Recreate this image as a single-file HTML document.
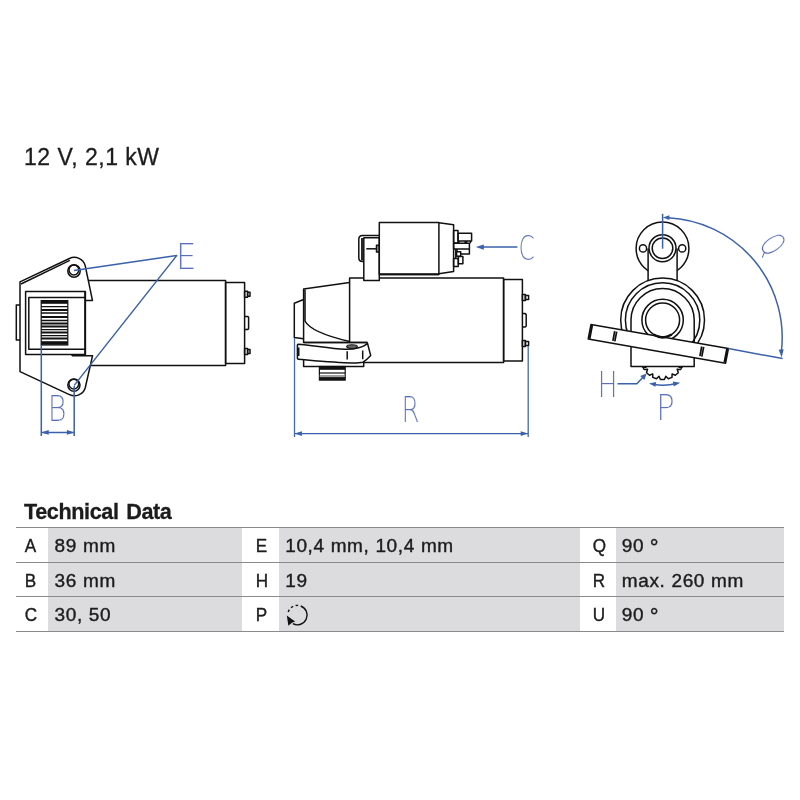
<!DOCTYPE html>
<html lang="en">
<head>
<meta charset="utf-8">
<title>Technical Data</title>
<style>
html,body{margin:0;padding:0;background:#fff;}
.spec,.hd,.tbl{will-change:transform;}
body{width:800px;height:800px;position:relative;overflow:hidden;font-family:"Liberation Sans",sans-serif;color:#1c1c1c;}
.spec{position:absolute;left:24px;top:142.8px;font-size:23px;line-height:28px;letter-spacing:0.5px;-webkit-text-stroke:0.3px #1c1c1c;white-space:nowrap;}
.hd{position:absolute;left:24.4px;top:498.6px;font-size:21.6px;line-height:26px;font-weight:bold;letter-spacing:-0.38px;word-spacing:2px;white-space:nowrap;-webkit-text-stroke:0.3px #1c1c1c;}
.tbl{position:absolute;left:16px;top:527px;width:768px;height:105px;}
.row{position:absolute;left:0;width:768px;height:34.5px;border-top:1px solid #8a8a8a;box-sizing:border-box;}
.tbl .end{position:absolute;left:0;top:103.5px;width:768px;height:1px;background:#8a8a8a;}
.c{position:absolute;top:0;height:100%;font-size:19px;line-height:36px;white-space:nowrap;letter-spacing:0.64px;-webkit-text-stroke:0.4px #1c1c1c;}
.k{background:#fff;}
.v{background:#dcdcde;}
.k span{position:absolute;left:8px;transform:scaleX(0.9);transform-origin:50% 50%;letter-spacing:0;}
.v span{position:absolute;left:6.6px;}
.deg{font-style:normal;font-size:22px;position:relative;top:3.2px;left:-0.5px;line-height:0;}
svg{position:absolute;left:0;top:0;}
</style>
</head>
<body>
<div class="spec">12 V, 2,1 kW</div>
<div class="hd">Technical Data</div>
<div class="tbl">
  <div class="row" style="top:0">
    <div class="c k" style="left:0;width:32px"><span>A</span></div>
    <div class="c v" style="left:32px;width:194px"><span>89 mm</span></div>
    <div class="c k" style="left:226px;width:37px"><span style="left:13px">E</span></div>
    <div class="c v" style="left:262.6px;width:301.4px"><span>10,4 mm, 10,4 mm</span></div>
    <div class="c k" style="left:564px;width:36px"><span style="left:12px">Q</span></div>
    <div class="c v" style="left:600px;width:168px"><span style="left:5.8px">90 <i class="deg">°</i></span></div>
  </div>
  <div class="row" style="top:34.5px">
    <div class="c k" style="left:0;width:32px"><span>B</span></div>
    <div class="c v" style="left:32px;width:194px"><span>36 mm</span></div>
    <div class="c k" style="left:226px;width:37px"><span style="left:13px">H</span></div>
    <div class="c v" style="left:262.6px;width:301.4px"><span>19</span></div>
    <div class="c k" style="left:564px;width:36px"><span style="left:12px">R</span></div>
    <div class="c v" style="left:600px;width:168px"><span style="left:5.8px">max. 260 mm</span></div>
  </div>
  <div class="row" style="top:69px">
    <div class="c k" style="left:0;width:32px"><span>C</span></div>
    <div class="c v" style="left:32px;width:194px"><span>30, 50</span></div>
    <div class="c k" style="left:226px;width:37px"><span style="left:13px">P</span></div>
    <div class="c v" style="left:262.6px;width:301.4px"></div>
    <div class="c k" style="left:564px;width:36px"><span style="left:12px">U</span></div>
    <div class="c v" style="left:600px;width:168px"><span style="left:5.8px">90 <i class="deg">°</i></span></div>
  </div>
  <div class="end"></div>
</div>
<svg width="800" height="800" viewBox="0 0 800 800">
<style>
.ln{stroke:#111;stroke-width:1.5;fill:none;stroke-linejoin:round;stroke-linecap:butt}
.lf{stroke:#111;stroke-width:1.5;fill:#fff;stroke-linejoin:round}
.b{stroke:#3b61aa;stroke-width:1.5;fill:none;stroke-linejoin:round}
.bf{fill:#3b61aa;stroke:none}
.lb{font-family:"DejaVu Sans Light","DejaVu Sans","Liberation Sans",sans-serif;font-weight:200;fill:#5c70ba;font-size:34px;stroke:#fff;stroke-width:0.2px;vector-effect:non-scaling-stroke}
</style>
<!-- LEFT VIEW -->
<g id="left">
  <!-- motor body -->
  <path class="ln" d="M88.7 280.6H225.6V365.4H90.3"/>
  <rect class="ln" x="225.6" y="282.4" width="19" height="81"/>
  <rect class="ln" x="244.6" y="291.2" width="3" height="6"/>
  <rect class="ln" x="247.6" y="292.2" width="2.4" height="4"/>
  <rect class="ln" x="244.6" y="348.6" width="3" height="6"/>
  <rect class="ln" x="247.6" y="349.6" width="2.4" height="4"/>
  <path class="ln" d="M244.6 316.4H247.6L248.6 317.4V328.6L247.6 329.6H244.6"/>
  <!-- housing outline -->
  <path class="ln" d="M85.4 300.6H92.5L85.2 265.6A11.3 11.3 0 0 0 69.4 258.5L20 281.9V371.6L69.4 394.6A11.3 11.3 0 0 0 85.2 388L92.5 355.8H72"/>
  <path class="ln" d="M21 284L69.8 260.4"/>
  <path class="ln" d="M72 354.6V355.8"/>
  <!-- left tab -->
  <path class="ln" d="M20 305H16.3V340H20"/>
  <!-- window -->
  <rect class="ln" x="25.6" y="291.6" width="59.8" height="62.8"/>
  <path class="ln" d="M85.4 297.4H28.8V349.2H85.4" />
  <path class="ln" style="stroke-width:1.6" d="M85 292V354"/>
  <!-- gear -->
  <rect x="41.2" y="300.6" width="26.6" height="44.4" fill="#fff" stroke="#111" stroke-width="1.2"/>
  <g stroke="#111" fill="none">
    <path stroke-width="3.2" d="M41.2 302.2H67.8"/>
    <path stroke-width="1.3" d="M41.2 306.6H67.8M41.2 313H67.8M41.2 320.5H67.8M41.2 329.6H67.8M41.2 335.6H67.8"/>
    <path stroke-width="2" d="M41.2 310H67.8M41.2 317H67.8M41.2 323.6H67.8M41.2 326.6H67.8M41.2 332.6H67.8M41.2 338.4H67.8"/>
    <path stroke-width="3.6" d="M41.2 343H67.8"/>
  </g>
  <!-- holes -->
  <circle class="ln" cx="74" cy="271" r="6.2"/>
  <circle class="ln" cx="73.9" cy="270" r="4.9"/>
  <circle class="ln" cx="73.9" cy="385.1" r="6.1"/>
  <circle class="ln" cx="73.8" cy="384.1" r="4.9"/>
  <!-- blue -->
  <path class="b" d="M74 270.6L176.7 255.6L74.2 385.4"/>
  <path class="b" d="M41.3 345V436M74.2 386V436M41.3 432.4H74.2"/>
  <path class="bf" d="M41.2 432.4l7.5 -2.3v4.6zM74.4 432.4l-7.5 -2.3v4.6z"/>
  <text class="lb" transform="translate(176.12 268.95) scale(0.950 1.061)">E</text>
  <text class="lb" transform="translate(47.82 420.75) scale(0.843 1.025)">B</text>
</g>
<!-- MIDDLE VIEW -->
<g id="mid">
  <!-- main body -->
  <path class="ln" d="M349.6 342.4V278H503.6V362.4H363.7"/>
  <rect class="ln" x="503.6" y="279.4" width="18.8" height="81.6"/>
  <rect class="ln" x="522.4" y="294.4" width="3" height="6"/>
  <rect class="ln" x="525.4" y="295.4" width="3.2" height="4"/>
  <rect class="ln" x="522.4" y="340.4" width="3" height="6"/>
  <rect class="ln" x="525.4" y="341.4" width="3.2" height="4"/>
  <path class="ln" d="M522.4 313.6H525.2L526.2 314.6V326L525.2 327H522.4"/>
  <!-- solenoid -->
  <path class="ln" d="M379.3 235.4H362.6Q358.8 235.4 358.8 239.2V257.8Q358.8 261.6 362.6 261.6H363.8"/>
  <path class="ln" style="stroke-width:1.8" d="M362 238V260.6"/>
  <rect class="lf" x="363.8" y="237.8" width="15.5" height="42.8"/>
  <path class="ln" d="M366.3 248.8H376.5"/>
  <rect class="ln" x="376.5" y="245.2" width="2.8" height="6.8" style="fill:#aaa"/>
  <rect class="lf" x="379.3" y="222.4" width="59.6" height="52"/>
  <path class="ln" style="stroke-width:2" d="M379.3 274.2H438.9"/>
  <path class="ln" d="M438.9 222.8L453.6 224.8V271.6L438.9 273.8"/>
  <rect class="ln" x="453.6" y="230.4" width="4.4" height="12.6"/>
  <rect class="ln" x="458" y="233.2" width="13.6" height="7.7"/>
  <path class="ln" d="M459 240.9V243.2M465.2 240.9V243.2M466.6 240.9V243.2M470.4 240.9V243.2"/>
  <rect class="ln" x="453.6" y="243.3" width="15.8" height="5.8"/>
  <path class="ln" d="M457 249.1V254H469.4V249.1"/>
  <path class="ln" d="M455.8 249.1V258.5"/>
  <rect class="lf" x="456.6" y="251.8" width="4.1" height="4.5"/>
  <rect class="ln" x="453.6" y="258.5" width="4.6" height="8.1"/>
  <rect class="lf" x="458.4" y="256.6" width="4.5" height="7.1"/>
  <!-- nose -->
  <path class="ln" d="M349.6 282.6L303.6 289V342.4H367.5"/>
  <path class="ln" d="M305 289.5V321C309 329 326 336 349.6 341.5"/>
  <path class="ln" d="M303.6 299.5L294.3 303.2V337.6L303.6 338.8"/>
  <!-- base + pinion -->
  <rect class="ln" x="303.6" y="359" width="60.1" height="7.5"/>
  <rect x="319.4" y="366.5" width="25.8" height="13.6" fill="#fff" stroke="#111" stroke-width="1.2"/>
  <g stroke="#111" fill="none">
    <path stroke-width="3.2" d="M319.4 368.2H345.2"/>
    <path stroke-width="1.2" d="M319.4 373H345.2"/>
    <path stroke-width="1.4" stroke="#777" d="M319.4 376H345.2"/>
    <path stroke-width="3" d="M319.4 378.6H345.2"/>
  </g>
  <!-- bracket -->
  <path class="lf" d="M298 344.2C312 345.2 330 348.6 345 349.3C355 349.6 364 347 367.5 343.3L370.7 355.6C368 358.6 366 360.6 363 362.2C352 364.6 322 361.4 298.4 359.3Q297.4 359.2 297.4 358.2V345.2Q297.4 344.2 298 344.2Z"/>
  <path class="ln" d="M303.6 342.4H367.5"/>
  <path class="ln" style="stroke-width:1.8" d="M298.6 347.5V356"/>
  <path class="ln" d="M347.2 351.3V359.6M362.7 350.5V359.2"/>
  <ellipse cx="352" cy="346.6" rx="5.4" ry="1.9" fill="#666" stroke="#111" stroke-width="1.1"/>
  <!-- blue -->
  <path class="b" style="stroke-width:1.3;stroke:#4169b4" d="M294.5 338V437M528.2 346V437"/><path class="b" style="stroke-width:1.35" d="M294.5 433.6H528.2"/>
  <path class="bf" d="M294.5 433.6l7.5 -2.3v4.6zM528.2 433.6l-7.5 -2.3v4.6z"/>
  <path class="b" d="M517.4 247.1H480"/>
  <path class="bf" d="M475.8 247.1l8 -2.6v5.2z"/>
  <text class="lb" transform="translate(518.61 259.87) scale(0.687 1.007)">C</text>
  <text class="lb" transform="translate(401.54 421.75) scale(0.766 1.033)">R</text>
</g>
<!-- RIGHT VIEW -->
<g id="right">
  <!-- solenoid end -->
  <circle class="ln" cx="662.5" cy="248.5" r="26.4"/>
  <circle class="ln" cx="643" cy="248.4" r="3.6"/>
  <circle class="ln" cx="682.2" cy="248.4" r="3.6"/>
  <path class="lf" d="M648.1 248.2V282H677.1V248.2Z" style="stroke:none"/>
  <path class="ln" d="M648.1 248.4V281M677.1 248.4V281"/>
  <circle class="lf" cx="662.5" cy="248.2" r="13.5"/>
  <circle class="ln" cx="662.5" cy="248.2" r="10.3"/>
  <!-- main body arcs -->
  <clipPath id="pclip"><path d="M560 200H760V354.2L560 318.9Z"/></clipPath>
  <circle class="lf" clip-path="url(#pclip)" cx="662.6" cy="320.0" r="41.9"/>
  <circle class="ln" clip-path="url(#pclip)" cx="662.6" cy="320.0" r="37.2"/>
  <path class="ln" d="M631.0 366.4V320.0A31.6 31.6 0 0 1 694.2 320.0V366.4Z"/>
  <circle class="ln" cx="662.6" cy="320.0" r="20.7"/>
  <!-- gear -->
  <clipPath id="gclip"><rect x="630" y="366.4" width="70" height="30"/></clipPath>
  <path class="ln" clip-path="url(#gclip)" d="M644.6 363.3L642.3 366.0L644.1 369.5L647.6 369.3L646.5 372.7L649.5 375.3L652.7 373.9L652.8 377.4L656.5 378.8L659.0 376.3L660.4 379.5L664.4 379.5L665.8 376.3L668.3 378.8L672.0 377.4L672.1 373.9L675.3 375.3L678.3 372.7L677.2 369.3L680.7 369.5L682.5 366.0L680.2 363.3"/>
  <path class="ln" style="stroke-width:2" d="M642.6 367H646.6M678.4 367H682.4"/>
  <!-- plate -->
  <path class="lf" d="M591.0 324.4L728.4 348.6L725.6 363.2L588.2 339.0Z"/>
  <path class="ln" style="stroke-width:2.2" d="M592.1 325.1L589.5 338.7M727.1 348.9L724.5 362.5"/>
  <path class="ln" style="stroke-width:1.7" d="M614.7 331.2L612.9 340.9M616.7 331.6L614.8 341.3M703.7 346.9L701.8 356.6M701.7 346.5L699.9 356.2"/>
  <circle class="ln" cx="662.6" cy="320.0" r="17"/>
  <path class="ln" style="stroke-width:2.4" d="M653.5 334.6A17.2 17.2 0 0 0 671.7 334.6"/>
  <!-- blue -->
  <path class="b" d="M662.6 213.8V248.7"/>
  <path class="b" d="M668 217.7A120 120 0 0 1 781.2 353"/>
  <path class="b" d="M728.4 348.6L782.6 358.6"/>
  <path class="bf" d="M662.8 217.6l6.6 -2.4v4.8z"/>
  <path class="bf" d="M781.6 357.4l-2.9 -7.6l5 -0.6z"/>
  <path class="b" d="M617.5 383.7H636.8L644 376.2"/>
  <path class="bf" d="M646.6 373.5l-2.2 6.6l-4.2 -4z"/>
  <path class="b" d="M653 384.2Q664.5 386.6 676.5 383.6"/>
  <path class="bf" d="M649 383.6l7.2 -1.6l-0.8 4.8zM680.2 382.8l-7.4 -1.2l1 4.8z"/>
  <text class="lb" transform="translate(597.76 396.55) scale(0.773 1.045)">H</text>
  <text class="lb" transform="translate(656.22 420.25) scale(0.898 1.029)">P</text>
  <text class="lb" style="stroke-width:0.15px" transform="translate(773.2 244.2) rotate(55) scale(0.660 0.995) translate(-13.38 12.38)">Q</text>
</g>
<!-- rotation icon -->
<g id="rot">
  <path d="M300.72 605.98A9.7 9.7 0 1 1 292.85 623.66" fill="none" stroke="#111" stroke-width="1.4"/>
  <path d="M288.20 612.02A9.7 9.7 0 0 1 289.31 609.75M291.04 607.78A9.7 9.7 0 0 1 293.15 606.38M295.63 605.56A9.7 9.7 0 0 1 298.16 605.43" fill="none" stroke="#111" stroke-width="1.4"/>
  <path d="M286.8 615.6L295.1 621.6L291.9 622.8L288.4 625.7Z" fill="#111"/>
</g>
</svg>
</body>
</html>
